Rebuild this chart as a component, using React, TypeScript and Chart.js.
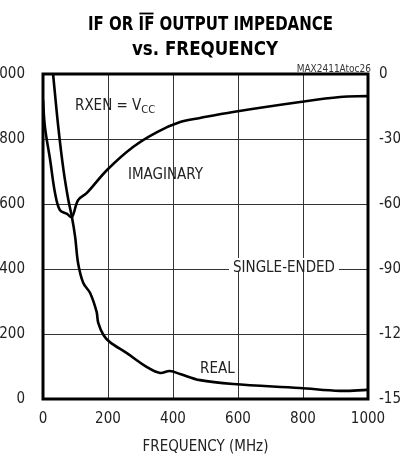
import React, { useEffect, useRef } from "react";
import { Chart, registerables } from "chart.js";

Chart.register(...registerables);

const FONT = '"Liberation Sans Narrow", "DejaVu Sans Condensed", "Arial Narrow", sans-serif';

// Real part (left axis, ohms)
const REAL_FREQ = [31, 47, 63, 78, 89, 99, 108, 124, 145, 165, 170, 186, 206, 258, 320, 360, 390, 422, 483, 585, 790, 914, 997];
const REAL_VAL = [1000, 837, 705, 612, 560, 498, 418, 357, 326, 268, 234, 197, 175, 141, 98, 80, 86, 77, 58, 46, 34, 25, 28];

// Imaginary part (right axis, ohms)
const IMAG_FREQ = [0, 6, 22, 37, 52, 74, 89, 108, 135, 197, 277, 351, 422, 483, 585, 791, 914, 997];
const IMAG_VAL = [-12, -24.5, -39.7, -54.9, -62.8, -64.6, -66.0, -58.2, -54.9, -44.3, -33.7, -26.8, -22.2, -20.3, -17.5, -12.9, -10.6, -10.2];

const X_MIN = 0, X_MAX = 1000, X_STEP = 200;
const Y_MIN = 0, Y_MAX = 1000, Y_STEP = 200;
const Y1_MIN = -150, Y1_MAX = 0, Y1_STEP = 30;

const TITLE_1A = "IF OR ";
const TITLE_1B = "IF";
const TITLE_1C = " OUTPUT IMPEDANCE";
const TITLE_2 = "vs. FREQUENCY";
const X_TITLE = "FREQUENCY (MHz)";
const CODE_LABEL = "MAX2411Atoc26";

const overlay = {
  id: "overlay",
  afterDraw(chart: any) {
    const ctx = chart.ctx as CanvasRenderingContext2D;
    const a = chart.chartArea;
    ctx.save();
    ctx.fillStyle = "#000";
    ctx.strokeStyle = "#000";
    // Title line 1 (horizontally squeezed to a narrow look)
    ctx.font = `bold 20px ${FONT}`;
    ctx.textBaseline = "alphabetic";
    ctx.textAlign = "left";
    const wA = ctx.measureText(TITLE_1A).width;
    const wB = ctx.measureText(TITLE_1B).width;
    const wC = ctx.measureText(TITLE_1C).width;
    const total = wA + wB + wC;
    const s1 = 245 / total;
    ctx.save();
    ctx.translate(210.5 - 245 / 2, 30);
    ctx.scale(s1, 1);
    ctx.fillText(TITLE_1A, 0, 0);
    ctx.fillText(TITLE_1B, wA, 0);
    ctx.fillText(TITLE_1C, wA + wB, 0);
    ctx.lineWidth = 1.8;
    ctx.beginPath();
    ctx.moveTo(wA + 1, -16.5);
    ctx.lineTo(wA + wB - 1, -16.5);
    ctx.stroke();
    ctx.restore();
    // Title line 2
    const w2 = ctx.measureText(TITLE_2).width;
    const s2 = 146 / w2;
    ctx.save();
    ctx.translate(205 - 73, 55);
    ctx.scale(s2, 1);
    ctx.fillText(TITLE_2, 0, 0);
    ctx.restore();

    // code label
    ctx.font = `10px ${FONT}`;
    ctx.fillStyle = "#333";
    ctx.textAlign = "right";
    ctx.fillText(CODE_LABEL, 371, 72);

    // annotations
    ctx.fillStyle = "#222";
    ctx.font = `15px ${FONT}`;
    ctx.textAlign = "left";
    ctx.textBaseline = "alphabetic";
    const rx = "RXEN = V";
    ctx.fillText(rx, 75, 110);
    const wr = ctx.measureText(rx).width;
    ctx.font = `11px ${FONT}`;
    ctx.fillText("CC", 75 + wr, 113);
    ctx.font = `15px ${FONT}`;
    ctx.fillText("IMAGINARY", 128, 179);
    ctx.fillText("REAL", 200, 373);
    // single-ended with gap in gridline
    const se = "SINGLE-ENDED";
    const ws = ctx.measureText(se).width;
    ctx.fillStyle = "#fff";
    ctx.fillRect(229, 258, ws + 8, 14);
    ctx.fillStyle = "#222";
    ctx.fillText(se, 233, 272);

    // frame
    ctx.lineWidth = 3;
    ctx.strokeStyle = "#000";
    ctx.strokeRect(a.left, a.top, a.right - a.left, a.bottom - a.top);
    ctx.restore();
  },
};

const tickFmt = (v: any) => String(v);

export default function App() {
  const ref = useRef<HTMLCanvasElement | null>(null);
  useEffect(() => {
    if (!ref.current) return;
    const chart = new Chart(ref.current, {
      type: "line",
      data: {
        datasets: [
          {
            label: "Real",
            data: REAL_FREQ.map((f, i) => ({ x: f, y: REAL_VAL[i] })),
            yAxisID: "y",
            borderColor: "#000",
            borderWidth: 2.6,
            pointRadius: 0,
            tension: 0.35,
            fill: false,
          },
          {
            label: "Imaginary",
            data: IMAG_FREQ.map((f, i) => ({ x: f, y: IMAG_VAL[i] })),
            yAxisID: "y1",
            borderColor: "#000",
            borderWidth: 2.6,
            pointRadius: 0,
            tension: 0.35,
            fill: false,
          },
        ],
      },
      options: {
        animation: false,
        responsive: false,
        layout: { padding: { top: 74, left: 0, right: 0, bottom: 0 } },
        plugins: { legend: { display: false }, tooltip: { enabled: false }, title: { display: false } },
        scales: {
          x: {
            type: "linear",
            min: X_MIN,
            max: X_MAX,
            ticks: { stepSize: X_STEP, padding: 11, color: "#222", font: { family: FONT, size: 15 }, callback: tickFmt },
            grid: { color: "#333", lineWidth: 1, drawTicks: false },
            border: { display: false },
            title: { display: true, text: X_TITLE, color: "#222", font: { family: FONT, size: 15 }, padding: { top: 0, bottom: 1 } },
            afterFit: (s: any) => { s.height = 58; },
          },
          y: {
            type: "linear",
            position: "left",
            min: Y_MIN,
            max: Y_MAX,
            ticks: { stepSize: Y_STEP, padding: 18, color: "#222", font: { family: FONT, size: 15 }, callback: tickFmt },
            grid: { color: "#333", lineWidth: 1, drawTicks: false },
            border: { display: false },
            afterFit: (s: any) => { s.width = 43; },
          },
          y1: {
            type: "linear",
            position: "right",
            min: Y1_MIN,
            max: Y1_MAX,
            ticks: { stepSize: Y1_STEP, padding: 11, color: "#222", font: { family: FONT, size: 15 }, callback: tickFmt },
            grid: { display: false, drawTicks: false },
            border: { display: false },
            afterFit: (s: any) => { s.width = 32; },
          },
        },
      },
      plugins: [overlay],
    });
    return () => chart.destroy();
  }, []);
  return (
    <div style={{ position: "absolute", left: 0, top: 0, width: 400, height: 457, background: "#fff" }}>
      <canvas ref={ref} width={400} height={457} style={{ display: "block", width: 400, height: 457 }} />
    </div>
  );
}
